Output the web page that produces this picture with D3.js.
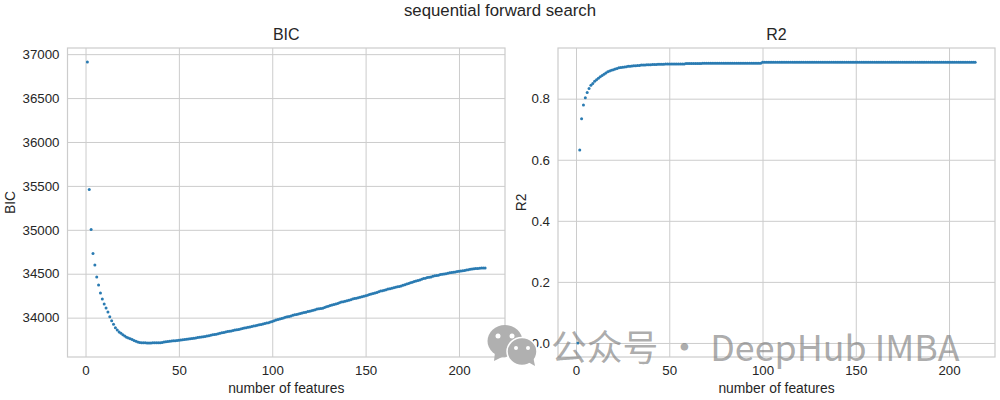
<!DOCTYPE html>
<html><head><meta charset="utf-8">
<script src="https://cdn.jsdelivr.net/npm/d3@7"></script>
<style>html,body{margin:0;padding:0;background:#fff}svg{display:block}text{font-family:"Liberation Sans",Arial,sans-serif;fill:#262626}</style>
</head><body><svg id="c" width="1000" height="400"></svg>
<script>
const suptitle = "sequential forward search";
const xLabel = "number of features";
const watermark = "公众号 · DeepHub IMBA";
const xTicks = [0,50,100,150,200];
const bicTicks = [34000,34500,35000,35500,36000,36500,37000];
const r2Ticks = [0,0.2,0.4,0.6,0.8];
const bicValues = [
36910,35460,35005,34730,34600,34462,34371,34280,34212,34155,
34110,34065,34010,33966,33924,33886,33860,33838,33822,33805,
33790,33778,33768,33760,33750,33740,33730,33722,33718,33715,
33714,33713,33712,33712,33712,33713,33713,33713,33714,33714,
33716,33722,33726,33728,33730,33733,33736,33738,33740,33742,
33745,33748,33751,33753,33757,33760,33763,33766,33769,33773,
33777,33780,33782,33786,33790,33794,33799,33804,33808,33812,
33817,33822,33827,33832,33837,33841,33845,33849,33853,33858,
33862,33866,33871,33876,33881,33886,33890,33894,33899,33904,
33909,33913,33918,33923,33927,33932,33938,33943,33950,33957,
33964,33973,33980,33986,33990,33997,34004,34010,34014,34020,
34027,34033,34036,34041,34048,34054,34058,34062,34069,34074,
34078,34084,34090,34098,34101,34104,34108,34116,34124,34130,
34137,34143,34150,34156,34162,34170,34178,34182,34187,34193,
34198,34204,34212,34217,34222,34227,34233,34238,34243,34248,
34255,34263,34270,34274,34280,34287,34294,34302,34306,34311,
34318,34325,34330,34334,34340,34347,34352,34355,34361,34368,
34374,34382,34390,34396,34404,34412,34417,34423,34430,34438,
34445,34450,34456,34460,34463,34470,34476,34480,34484,34490,
34495,34498,34501,34506,34510,34513,34517,34520,34525,34528,
34530,34534,34538,34542,34546,34550,34553,34556,34559,34561,
34563,34565,34566,34566];
const r2Values = [
0.000,0.632,0.734,0.779,0.803,0.820,0.833,0.844,0.850,0.857,
0.862,0.867,0.872,0.876,0.880,0.884,0.888,0.891,0.893,0.895,
0.897,0.899,0.901,0.902,0.903,0.904,0.905,0.906,0.906,0.907,
0.908,0.908,0.909,0.909,0.910,0.910,0.910,0.911,0.911,0.911,
0.912,0.912,0.912,0.913,0.913,0.913,0.913,0.914,0.914,0.914,
0.914,0.914,0.914,0.914,0.914,0.914,0.914,0.914,0.915,0.915,
0.915,0.915,0.915,0.915,0.915,0.915,0.915,0.916,0.916,0.916,
0.916,0.916,0.916,0.916,0.916,0.916,0.916,0.916,0.916,0.916,
0.916,0.916,0.916,0.916,0.916,0.916,0.916,0.916,0.916,0.916,
0.916,0.916,0.916,0.916,0.916,0.916,0.916,0.916,0.916,0.919,
0.919,0.919,0.919,0.919,0.919,0.919,0.919,0.919,0.919,0.919,
0.919,0.919,0.919,0.919,0.919,0.919,0.919,0.919,0.919,0.919,
0.919,0.919,0.919,0.919,0.919,0.919,0.919,0.919,0.919,0.919,
0.919,0.919,0.919,0.919,0.919,0.919,0.919,0.919,0.919,0.919,
0.919,0.919,0.919,0.919,0.919,0.919,0.919,0.919,0.919,0.919,
0.919,0.919,0.919,0.919,0.919,0.919,0.919,0.919,0.919,0.919,
0.919,0.919,0.919,0.919,0.919,0.919,0.919,0.919,0.919,0.919,
0.919,0.919,0.919,0.919,0.919,0.919,0.919,0.919,0.919,0.919,
0.919,0.919,0.919,0.919,0.919,0.919,0.919,0.919,0.919,0.919,
0.919,0.919,0.919,0.919,0.919,0.919,0.919,0.919,0.919,0.919,
0.919,0.919,0.919,0.919,0.919,0.919,0.919,0.919,0.919,0.919,
0.919,0.919,0.919,0.919];

const svg = d3.select("#c");
const grid = "#cccccc", blue = "#2a7bb2";
const plotTop = 48, plotBottom = 357;

function panel(x0, x1, title, values, yDomain, yTicks, fmt, yLabelX){
  const x = d3.scaleLinear().domain([-9.65,224.65]).range([x0,x1]);
  const y = d3.scaleLinear().domain(yDomain).range([plotBottom,plotTop]);
  const g = svg.append("g");
  const ax = g.append("g").attr("transform",`translate(0,${plotBottom})`)
    .call(d3.axisBottom(x).tickValues(xTicks).tickSize(-(plotBottom-plotTop)).tickPadding(9));
  const ay = g.append("g").attr("transform",`translate(${x0},0)`)
    .call(d3.axisLeft(y).tickValues(yTicks).tickFormat(fmt).tickSize(-(x1-x0)).tickPadding(8));
  [ax,ay].forEach(a=>{
    a.select(".domain").remove();
    a.selectAll("line").attr("stroke",grid).attr("stroke-width",1);
    a.selectAll("text").attr("font-size",13.3).style("fill","#262626")
     .style("font-family",'"Liberation Sans",Arial,sans-serif');
  });
  g.append("rect").attr("x",x0).attr("y",plotTop).attr("width",x1-x0).attr("height",plotBottom-plotTop)
    .attr("fill","none").attr("stroke",grid).attr("stroke-width",1.2);
  g.append("g").selectAll("circle").data(values).join("circle")
    .attr("cx",(d,i)=>x(i+1)).attr("cy",d=>y(d)).attr("r",1.5).attr("fill",blue);
  g.append("text").attr("x",(x0+x1)/2).attr("y",40).attr("text-anchor","middle").attr("font-size",16).text(title);
  g.append("text").attr("x",(x0+x1)/2).attr("y",393).attr("text-anchor","middle").attr("font-size",13.85).text(xLabel);
  g.append("text").attr("transform",`translate(${yLabelX},${(plotTop+plotBottom)/2}) rotate(-90)`)
    .attr("text-anchor","middle").attr("font-size",13.85).text(title);
}
panel(67.5,505,"BIC",bicValues,[33552,37070],bicTicks,d3.format("d"),15);
panel(558,995,"R2",r2Values,[-0.046,0.966],r2Ticks,d3.format(".1f"),526);

svg.append("text").attr("x",500).attr("y",16).attr("text-anchor","middle").attr("font-size",16.8).text(suptitle);

const wm = svg.append("g");
wm.append("ellipse").attr("cx",505).attr("cy",341).attr("rx",17.5).attr("ry",16).attr("fill","#b0b0b0");
wm.append("path").attr("d","M495 352 L494 361 L504 356 Z").attr("fill","#b0b0b0");
wm.append("ellipse").attr("cx",522).attr("cy",351.5).attr("rx",15).attr("ry",14).attr("fill","#b0b0b0").attr("stroke","#fff").attr("stroke-width",1.5);
wm.append("path").attr("d","M528 362 L535 366 L533 356 Z").attr("fill","#b0b0b0");
[[498,336],[512,336]].forEach(p=>wm.append("circle").attr("cx",p[0]).attr("cy",p[1]).attr("r",2.5).attr("fill","#fff"));
[[516,348],[528,348]].forEach(p=>wm.append("circle").attr("cx",p[0]).attr("cy",p[1]).attr("r",2).attr("fill","#fff"));
wm.append("text").attr("x",551).attr("y",360.5).attr("font-size",35.8)
  .style("font-family",'"Noto Sans CJK SC","Noto Sans",sans-serif').style("font-weight",400)
  .style("fill","rgba(125,125,125,0.65)").text(watermark);
</script></body></html>
